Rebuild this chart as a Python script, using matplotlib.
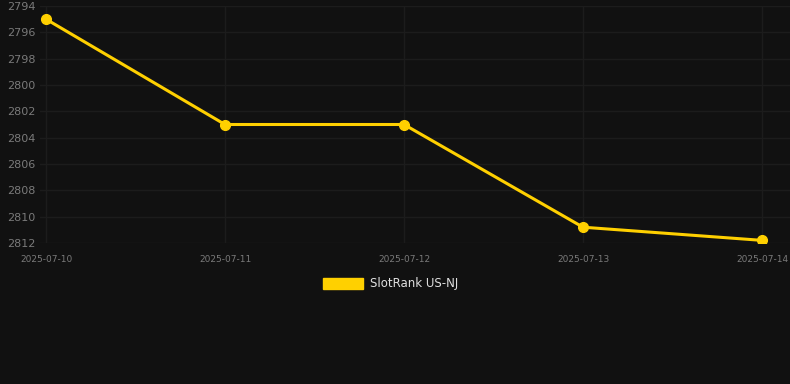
import matplotlib
matplotlib.use("Agg")
import matplotlib.pyplot as plt
from matplotlib.patches import Patch

dates = ["2025-07-10", "2025-07-11", "2025-07-12", "2025-07-13", "2025-07-14"]
ranks = [2795, 2803, 2803, 2810.8, 2811.8]
yticks = [2794, 2796, 2798, 2800, 2802, 2804, 2806, 2808, 2810, 2812]
series_name = "SlotRank US-NJ"

BG = "#111111"
GRID = "#1c1c1c"
LINE = "#FFD000"
TXT = "#7a7a7a"

W, H = 790, 384
fig = plt.figure(figsize=(W / 100, H / 100), dpi=100, facecolor=BG)
ax = fig.add_axes([40 / W, 1 - 243 / H, (W - 40) / W, (243 - 6) / H], facecolor=BG)

x = list(range(len(dates)))
ax.plot(x, ranks, color=LINE, linewidth=2.2, marker="o", markersize=7,
        markerfacecolor=LINE, markeredgecolor=LINE, zorder=3)

ax.set_xlim(-6 / 179, 4 + 28 / 179)
ax.set_ylim(2812, 2794)
ax.set_yticks(yticks)
ax.set_yticklabels([str(t) for t in yticks])
ax.set_xticks(x)
ax.set_xticklabels(dates)

ax.grid(True, color=GRID, linewidth=1)
ax.set_axisbelow(True)
for s in ax.spines.values():
    s.set_visible(False)
ax.tick_params(axis="y", length=0, pad=3, labelsize=8, labelcolor=TXT)
ax.tick_params(axis="x", length=0, pad=9, labelsize=6.5, labelcolor=TXT)

fig.legend(handles=[Patch(facecolor=LINE, edgecolor=LINE)], labels=[series_name],
           loc="center", bbox_to_anchor=(391 / W, 1 - 284 / H),
           frameon=False, fontsize=8.5, labelcolor="#e0e0e0",
           handlelength=3.4, handleheight=1.0, handletextpad=0.6)

fig.savefig("out.png", dpi=100, facecolor=BG)
